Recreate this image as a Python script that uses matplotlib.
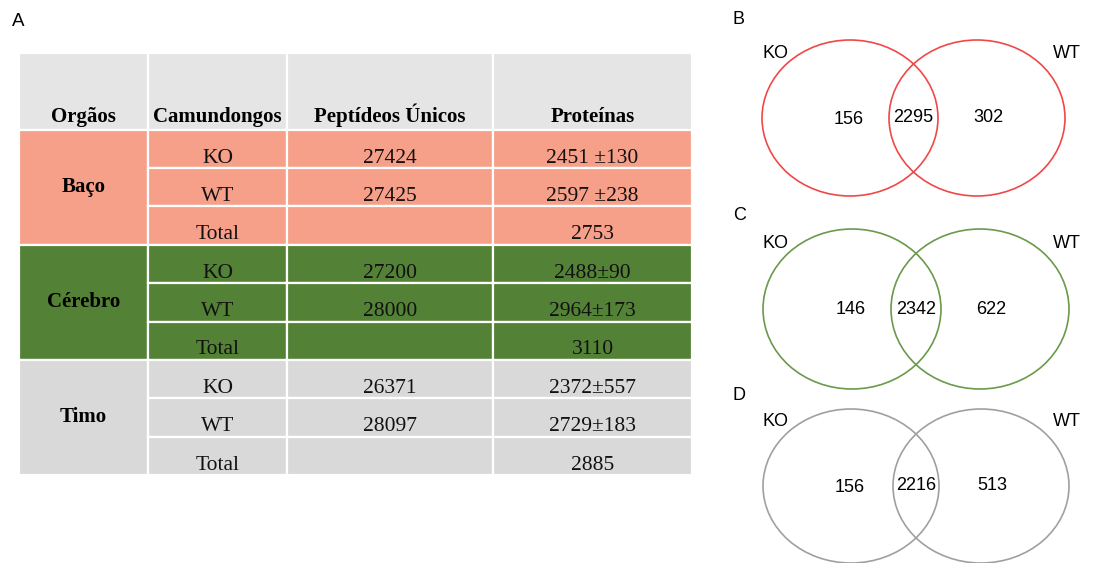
import matplotlib.pyplot as plt
from matplotlib.patches import Rectangle, Ellipse

# tabela A
cabecalho = ['Orgãos', 'Camundongos', 'Peptídeos Únicos', 'Proteínas']
orgaos = ['Baço', 'Cérebro', 'Timo']
camundongos = ['KO', 'WT', 'Total']
peptideos = [['27424', '27425', ''],
             ['27200', '28000', ''],
             ['26371', '28097', '']]
proteinas = [['2451 ±130', '2597 ±238', '2753'],
             ['2488±90', '2964±173', '3110'],
             ['2372±557', '2729±183', '2885']]
cores_orgao = ['#f6a08a', '#538135', '#d9d9d9']

# diagramas de Venn B, C, D
venn_letras = ['B', 'C', 'D']
so_ko = [156, 146, 156]
ambos = [2295, 2342, 2216]
so_wt = [302, 622, 513]
cores_venn = ['#f04848', '#6a9a4a', '#a0a0a0']

W, H = 1093, 563
fig = plt.figure(figsize=(W / 100, H / 100), dpi=100)
serif = 'Liberation Serif'
sans = 'Liberation Sans'

fig.text(12 / W, 1 - 21 / H, 'A', fontsize=13.5, family=sans, va='center', ha='left')

# ---- tabela ----
larguras = [129, 139, 206, 199]
bordas = [0]
for w in larguras:
    bordas.append(bordas[-1] + w)
ax = fig.add_axes([19 / W, (H - 475) / H, bordas[-1] / W, 422 / H])
ax.set_xlim(0, bordas[-1])
ax.set_ylim(11, 0)
ax.axis('off')

def celula(x0, x1, y0, y1, cor):
    ax.add_patch(Rectangle((x0, y0), x1 - x0, y1 - y0, facecolor=cor,
                           edgecolor='white', linewidth=1.6))

for j, titulo in enumerate(cabecalho):
    celula(bordas[j], bordas[j + 1], 0, 2, '#e5e5e5')
    ax.text((bordas[j] + bordas[j + 1]) / 2, 1.80, titulo, ha='center', va='baseline',
            family=serif, fontweight='bold', fontsize=15)

for g, orgao in enumerate(orgaos):
    y0 = 2 + 3 * g
    cor = cores_orgao[g]
    celula(bordas[0], bordas[1], y0, y0 + 3, cor)
    ax.text((bordas[0] + bordas[1]) / 2, y0 + 1.48, orgao, ha='center', va='center',
            family=serif, fontweight='bold', fontsize=15)
    for r in range(3):
        y = y0 + r
        valores = [camundongos[r], peptideos[g][r], proteinas[g][r]]
        for j, v in enumerate(valores, start=1):
            celula(bordas[j], bordas[j + 1], y, y + 1, cor)
            ax.text((bordas[j] + bordas[j + 1]) / 2, y + 0.74, v, ha='center',
                    va='center', family=serif, fontsize=15.5, color='#111111')

# ---- Venn ----
av = fig.add_axes([0, 0, 1, 1])
av.set_xlim(0, W)
av.set_ylim(H, 0)
av.axis('off')

centro_y = [118, 309, 486]
letra_y = [20, 215, 396]
raio_x = [88, 89, 88]
raio_y = [78, 80, 77]
esq_x = [850, 852, 851]
dir_x = [977, 980, 981]

for k in range(3):
    cy = centro_y[k]
    for cx in (esq_x[k], dir_x[k]):
        av.add_patch(Ellipse((cx, cy), 2 * raio_x[k], 2 * raio_y[k], fill=False,
                             edgecolor=cores_venn[k], linewidth=1.2))
    av.text(733, letra_y[k], venn_letras[k], fontsize=13, family=sans, va='center')
    av.text(762, cy - 65, 'KO', fontsize=13, family=sans, va='center')
    av.text(1053, cy - 65, 'WT', fontsize=13, family=sans, va='center')
    av.text(esq_x[k] - 1, cy + 1, str(so_ko[k]), fontsize=13, family=sans,
            ha='center', va='center')
    av.text((esq_x[k] + dir_x[k]) / 2, cy, str(ambos[k]), fontsize=13, family=sans,
            ha='center', va='center')
    av.text(dir_x[k] + 11, cy, str(so_wt[k]), fontsize=13, family=sans,
            ha='center', va='center')

fig.savefig('out.png', dpi=100)
